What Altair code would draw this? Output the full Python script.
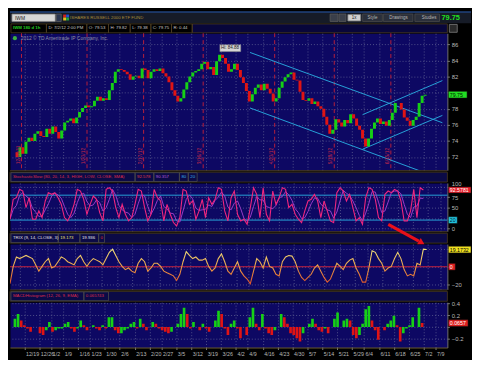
import altair as alt
import pandas as pd

FONT = "Liberation Sans"

# ---------------- data ----------------
# daily closes, trading days -2 .. 135 (day 0 = 12/16/2011 expiration)
closes = [72.0, 73.2, 72.4, 73.9, 74.4, 74.0, 74.9, 75.2, 74.6, 74.5,
          75.5, 74.9, 75.8, 75.1, 74.3, 75.3, 76.3, 76.5, 76.8, 76.2,
          76.9, 77.6, 78.1, 78.4, 78.2, 78.3, 79.0, 79.5, 79.0, 79.3,
          79.1, 80.3, 81.2, 82.6, 82.9, 82.8, 82.6, 82.3, 81.6, 82.0,
          82.1, 81.8, 83.0, 82.8, 81.8, 82.6, 82.9, 82.7, 83.0, 82.4,
          82.0, 81.3, 80.3, 79.6, 78.9, 79.3, 80.4, 81.3, 82.0, 82.5,
          82.7, 82.9, 83.6, 83.8, 82.9, 83.2, 82.2, 83.9, 84.7, 84.3,
          83.6, 82.6, 82.9, 83.6, 82.8, 81.9, 81.2, 80.2, 78.9, 79.8,
          80.6, 81.0, 80.3, 81.1, 80.5, 79.9, 78.9, 79.3, 80.6, 81.4,
          81.9, 82.3, 82.5, 81.6, 81.5, 80.1, 79.1, 79.0, 79.3, 78.6,
          78.9, 78.3, 78.0, 77.0, 76.0, 74.9, 75.4, 76.7, 76.3, 75.8,
          76.6, 76.2, 77.3, 76.8, 75.9, 75.4, 74.3, 73.3, 74.3, 75.5,
          76.3, 76.8, 76.1, 76.4, 75.9, 76.6, 77.5, 78.7, 78.7, 77.9,
          76.9, 76.5, 75.9, 76.6, 77.0, 78.7, 79.6, 79.75]
first_open = 72.6
first_day = -2

stoch = [22, 70, 74, 94, 90, 50, 74, 22, 22, 42, 26, 66, 86, 82, 86, 74, 58, 26, 18, 34,
         58, 94, 90, 70, 34, 58, 78, 70, 38, 18, 94, 98, 90, 50, 26, 58, 34, 18, 26, 58,
         94, 90, 50, 18, 34, 94, 74, 66, 18, 58, 34, 14, 6, 26, 94, 90, 58, 66, 22, 42,
         70, 26, 74, 58, 70, 98, 94, 42, 18, 74, 90, 34, 18,
         22, 10, 50, 98, 82, 26, 98, 34, 18, 90, 58, 74, 98, 94, 50, 58, 34, 22, 14, 42,
         66, 70, 82, 66, 26, 66, 42, 18, 14, 86, 98, 90, 66, 82, 50, 18, 26, 10, 74, 98,
         94, 70, 26, 18, 82, 90, 86, 94, 90, 66, 18, 18, 42, 94, 26, 98, 92.6]

trix = [-18.9, 0.4, 10.9, 9.1, 10.9, 12.6, 10.9, 9.1, 2.1, -4.9,
        0.4, 5.6, 9.1, -1.4, 0.4, 5.6, 10.9, 9.1, 5.6, 3.9,
        2.1, 9.1, 12.6, 5.6, 0.4, 5.6, 9.1, 7.4, 5.6, 2.1,
        9.1, 16.1, 19.6, 12.6, 5.6, 0.4, -3.2, -1.4, -4.9, -6.7,
        3.9, 9.1, 5.6, -4.9, -1.4, 3.9, 3.9, 0.4, -4.9, -6.7,
        -8.4, -10.2, -15.4, -8.4, 5.6, 16.8, 12.6, 9.1, 10.9, 7.4,
        7.4, 9.1, 0.4, -4.9, -1.4, 9.1, 14.4, 5.6, -4.9, -8.4,
        -1.4, 5.6, -4.9,
        -10.2, -13.7, -18.9, -4.9, 9.1, 5.6, -1.4, 10.9, 0.4, -1.4,
        -8.4, -10.2, 5.6, 10.9, 12.6, 11.9, 5.6, -4.9, -11.9, -15.4,
        -11.9, -8.4, -1.4, 2.1, -4.9, -11.9, -17.2, -13.7, -4.9, 3.9,
        0.4, -3.2, 3.9, 7.4, 9.1, -1.4, -8.4, -17.2, -17.2, -1.4,
        17.9, 16.1, 9.1, 3.9, -4.9, -1.4, 0.4, 9.1, 16.1, 9.1,
        -3.2, -10.2, -8.4, -10.2, 3.9, 2.1, 19.6, 19.2]

macd = [0.137, 0.219, 0.109, 0.027, -0.027, -0.082, 0.0, 0.0, -0.109, -0.137,
        -0.055, 0.082, -0.082, -0.055, -0.027, -0.027, 0.055, 0.082, -0.027, -0.082,
        -0.027, 0.109, 0.027, -0.055, 0.0, 0.027, -0.027, -0.055, 0.027, -0.027,
        0.164, 0.164, -0.055, -0.109, -0.109, -0.055, -0.027, 0.055, 0.082, -0.027,
        0.137, 0.055, -0.055, 0.0, 0.082, 0.055, -0.027, -0.055, -0.082, -0.109,
        -0.082, 0.0, 0.055, 0.219, 0.328, 0.219, -0.027, 0.082, 0.0, -0.055,
        0.055, -0.027, -0.082, 0.0, 0.109, 0.273, 0.219, -0.027, -0.137, 0.055,
        0.109, -0.027, -0.191,
        0.0, -0.137, 0.164, 0.328, 0.055, -0.055, 0.219, -0.027, -0.109, -0.137,
        -0.055, 0.0, 0.219, 0.164, 0.055, -0.109, -0.137, -0.191, -0.246, -0.109,
        0.0, 0.055, 0.137, 0.055, -0.055, -0.082, -0.027, -0.109, 0.0, 0.137,
        0.246, 0.0, 0.109, 0.137, 0.109, -0.137, -0.191, -0.137, 0.055, 0.301,
        0.355, 0.109, -0.055, -0.219, 0.0, -0.055, 0.055, 0.109, 0.191, 0.027,
        -0.246, -0.109, -0.027, 0.027, 0.164, 0.0, 0.328, 0.066]
ind_start, ind_step = -2.2, 1.0515   # indicator sample spacing in trading days

exp_days = [0, 22, 41, 61, 85, 105, 124]
exp_labels = ["12/16/11", "1/20/12", "2/17/12", "3/16/12", "4/20/12", "5/18/12", "6/15/12"]
week_days = [1, 6, 10, 14, 19, 23, 28, 33, 38, 43, 47, 52, 57, 62, 67, 72, 76, 81, 86, 91,
             96, 101, 106, 111, 115, 120, 125, 130, 135, 139]
week_labels = ["12/19", "12/26", "1/2", "1/9", "1/16", "1/23", "1/30", "2/6", "2/13", "2/20",
               "2/27", "3/5", "3/12", "3/19", "3/26", "4/2", "4/9", "4/16", "4/23", "4/30",
               "5/7", "5/14", "5/21", "5/29", "6/4", "6/11", "6/18", "6/25", "7/2", "7/9"]
price_ticks = [72, 74, 76, 78, 80, 82, 84, 86]

# trend channel lines (day, price)
chan_x = [76.7, 141.3, 76.7, 134.1, 114.5, 141.3, 114.5, 141.3]
chan_y = [85.0, 76.26, 78.10, 70.23, 72.97, 77.17, 77.26, 81.5]
chan_id = ["a", "a", "b", "b", "c", "c", "d", "d"]

# ---------------- layout / style ----------------
W = 444
HP, HS, HT, HM = 139, 49, 46, 46
XDOM = [-2.21, 141.32]
PDOM = [70.36, 87.38]
SDOM = [-7.0, 109.3]
TDOM = [-25.3, 25.3]
MDOM = [-0.35, 0.42]
NAVY = "#0d0863"
GRID = "#50508a"
LAB = "#b8b8b8"
GREEN = "#16d016"
RED = "#e01414"
CYAN = "#27a2d8"
TF = 4.4   # small UI text size

label_expr = "[" + ",".join("'%s'" % s for s in week_labels) + "][indexof([" + \
    ",".join(str(v) for v in week_days) + "], datum.value)]"


def X(labels=False):
    if labels:
        ax = alt.Axis(values=week_days, grid=True, gridColor=GRID, gridDash=[1, 2], labels=True,
                      labelExpr=label_expr, labelAlign="left", labelOffset=1, labelOverlap=False,
                      labelBound=False, labelFlush=False, labelColor=LAB, labelFontSize=5.4,
                      labelFont=FONT, labelPadding=2, ticks=True, tickSize=2, tickColor="#808080",
                      domain=True, domainColor="#6a5a2e", title=None)
    else:
        ax = alt.Axis(values=week_days, grid=True, gridColor=GRID, gridDash=[1, 2],
                      labels=False, ticks=False, domain=False, title=None)
    return alt.X("x:Q", scale=alt.Scale(domain=XDOM, nice=False, zero=False), axis=ax)


def make_Y(dom, values, fmt, hidden, top_up=None):
    expr = " || ".join("datum.value == %s" % h for h in hidden)
    lab = "(%s) ? '' : datum.label" % expr if hidden else "datum.label"
    extra = {}
    if top_up is not None:
        extra["labelBaseline"] = {"condition": {"test": "datum.value == %s" % top_up, "value": "bottom"},
                                  "value": "middle"}

    def Y(field="y"):
        return alt.Y(field + ":Q", scale=alt.Scale(domain=dom, nice=False, zero=False),
                     axis=alt.Axis(orient="right", values=values, format=fmt, grid=True,
                                   gridColor=GRID, gridDash=[1, 2], labelColor=LAB,
                                   labelFontSize=6, labelFont=FONT, labelPadding=2,
                                   labelExpr=lab,
                                   tickSize=2, tickColor="#808080", domain=True,
                                   domainColor="#707070", title=None, **extra))
    return Y


def value_box(Y, dom, H, v, label, fill, tcolor, wbox, hpx=3.4):
    h = hpx * (dom[1] - dom[0]) / H
    r = alt.Chart(pd.DataFrame({"y": [v - h], "y2": [v + h]})).mark_rect(
        fill=fill, stroke="#101010", strokeWidth=0.5).encode(
        x=alt.value(W + 1), x2=alt.value(W + 1 + wbox), y=Y(), y2="y2:Q")
    t = alt.Chart(pd.DataFrame({"y": [v]})).mark_text(
        align="left", baseline="middle", fontSize=5.3, font=FONT, color=tcolor).encode(
        x=alt.value(W + 2.5), y=Y(), text=alt.value(label))
    return [r, t]


def chrome(rects, texts, h):
    layers = []
    df = pd.DataFrame(rects, columns=["x1", "x2", "y1", "y2", "fill", "stroke"])
    layers.append(alt.Chart(df).mark_rect(strokeWidth=0.8).encode(
        x=alt.X("x1:Q", scale=None, axis=None), x2="x2:Q",
        y=alt.Y("y1:Q", scale=None, axis=None), y2="y2:Q",
        fill=alt.Fill("fill:N", scale=None), stroke=alt.Stroke("stroke:N", scale=None)))
    for bold in (False, True):
        sub = [t for t in texts if t[4] == bold]
        if sub:
            d = pd.DataFrame(sub, columns=["x", "y", "t", "c", "b", "s"])
            layers.append(alt.Chart(d).mark_text(
                align="left", baseline="middle", font=FONT,
                fontWeight="bold" if bold else "normal").encode(
                x=alt.X("x:Q", scale=None, axis=None), y=alt.Y("y:Q", scale=None, axis=None),
                text="t:N", color=alt.Color("c:N", scale=None),
                size=alt.Size("s:Q", scale=None)))
    return alt.layer(*layers).properties(width=W, height=h)


# ---------------- header ----------------
T = "transparent"
BOX = "#4e3f22"
hdr_rects = [
    (0, 468, 0, 12, "#161b27", T), (0, 468, 0, 1, "#2456a8", T),
    (2, 46, 2.5, 10, "#d6d6d6", "#808080"), (47, 52, 2.5, 10, "#2a3550", "#606060"),
    (54, 57, 3, 6, "#d02020", T), (57, 60, 3, 6, "#2050d0", T),
    (54, 57, 6, 9, "#e0c020", T), (57, 60, 6, 9, "#20a040", T),
    (325, 333, 2.5, 10, "#3a3f4a", "#5a5a5a"), (334, 341, 2.5, 10, "#3a3f4a", "#5a5a5a"),
    (343, 356, 3, 9.5, "#d0d0d0", "#808080"), (358, 378, 2.5, 10, "#2a2f3a", "#4a4a4a"),
    (379, 409, 2.5, 10, "#2a2f3a", "#4a4a4a"), (411, 436, 2.5, 10, "#2a2f3a", "#4a4a4a"),
    (0, 468, 12, 22, "#000000", T), (185, 444, 12.5, 21.5, "#08063a", BOX),
    (1, 37, 12.5, 21.5, T, BOX), (37, 78, 12.5, 21.5, T, BOX), (78, 100, 12.5, 21.5, T, BOX),
    (100, 122, 12.5, 21.5, T, BOX), (122, 143, 12.5, 21.5, T, BOX),
    (143, 164, 12.5, 21.5, T, BOX), (164, 185, 12.5, 21.5, T, BOX),
    (446, 454, 13, 21, "#2a2a2a", "#808080"),
]
GRAYT = "#c8c8c8"
hdr_texts = [
    (5, 6.5, "IWM", "#202020", False, 5.0),
    (61, 6.5, "ISHARES RUSSELL 2000 ETF FUND", "#a88c3a", False, 4.4),
    (347, 6.5, "1x", "#202020", False, 4.5),
    (363, 6.5, "Style", "#b8b8b8", False, 4.5),
    (385, 6.5, "Drawings", "#b8b8b8", False, 4.5),
    (418, 6.5, "Studies", "#b8b8b8", False, 4.5),
    (438, 6.5, "79.75", "#22e022", True, 7.5),
    (3, 17, "IWM 180 d 1h", "#22cc22", True, TF),
    (39, 17, "D: 7/2/12 2:00 PM", GRAYT, False, TF),
    (80, 17, "O: 79.53", GRAYT, False, TF),
    (102, 17, "H: 79.82", GRAYT, False, TF),
    (124, 17, "L: 79.38", GRAYT, False, TF),
    (145, 17, "C: 79.75", GRAYT, False, TF),
    (166, 17, "R: 0.44", GRAYT, False, TF),
]
header = chrome(hdr_rects, hdr_texts, 22)

# ---------------- price panel ----------------
YP = make_Y(PDOM, price_ticks, "d", [80])
opens = [first_open] + closes[:-1]
pdf = pd.DataFrame({
    "x": [first_day + i + 0.5 for i in range(len(closes))],
    "y": opens, "y2": closes,
    "dir": ["up" if c >= o else "down" for o, c in zip(opens, closes)],
})
candles = alt.Chart(pdf).mark_bar(width=3.0, clip=True).encode(
    x=X(), y=YP(), y2="y2:Q",
    color=alt.Color("dir:N", scale=alt.Scale(domain=["up", "down"], range=[GREEN, RED]), legend=None))
exp_rules = alt.Chart(pd.DataFrame({"x": exp_days})).mark_rule(
    color="#b8203c", strokeDash=[4, 3], strokeWidth=1).encode(x=X())
exp_text = alt.Chart(pd.DataFrame({"x": [d - 1.3 for d in exp_days], "y": [71.1] * len(exp_days),
                                   "t": exp_labels})).mark_text(
    angle=270, align="left", baseline="middle", fontSize=5.0, font=FONT, color="#c4284a").encode(
    x=X(), y=YP(), text="t:N")
chan = alt.Chart(pd.DataFrame({"x": chan_x, "y": chan_y, "id": chan_id})).mark_line(
    color=CYAN, strokeWidth=1, clip=True).encode(x=X(), y=YP(), detail="id:N")
hi_box = alt.Chart(pd.DataFrame({"x": [66.6], "x2": [73.6], "y": [85.1], "y2": [85.95]})).mark_rect(
    fill="#d4d4d4", stroke="#808080", strokeWidth=0.5).encode(x=X(), x2="x2:Q", y=YP(), y2="y2:Q")
hi_text = alt.Chart(pd.DataFrame({"x": [67.0], "y": [85.52]})).mark_text(
    align="left", baseline="middle", fontSize=4.6, font=FONT, color="#202020").encode(
    x=X(), y=YP(), text=alt.value("Hi: 84.88"))
copy_dot = alt.Chart(pd.DataFrame({"a": [0]})).mark_circle(size=18, color="#3cb043", opacity=1).encode(
    x=alt.value(5), y=alt.value(5))
copy_txt = alt.Chart(pd.DataFrame({"a": [0]})).mark_text(
    align="left", baseline="middle", fontSize=5.0, font=FONT, color="#8e8ea4").encode(
    x=alt.value(11), y=alt.value(5), text=alt.value("2012 \u00a9 TD Ameritrade IP Company, Inc."))
price = alt.layer(exp_rules, chan, candles, hi_box, hi_text, exp_text, copy_dot, copy_txt,
                  *value_box(YP, PDOM, HP, 79.75, "79.75", "#22dd22", "#002000", 19)).properties(
    width=W, height=HP, view=alt.ViewBackground(fill=NAVY, stroke="transparent"))


def title_row(segs, texts):
    rects = [(0, 444, 0, 1, "#4a3c1e", T), (0, 444, 2, 12, "#0b0a46", "#4a3c1e")]
    rects += [(a, b, 2.5, 11.5, T, "#4a4a4a") for a, b in segs]
    return chrome(rects, [(x, 7, t, c, False, TF) for x, t, c in texts], 13)


title1 = title_row([(1, 127), (127, 146), (146, 172), (172, 181), (181, 190)],
                   [(3, "StochasticSlow (80, 20, 14, 3, HIGH, LOW, CLOSE, SMA)", "#dc2c4c"),
                    (129, "92.578", "#e03a4a"), (148, "90.357", "#b858d8"),
                    (174, "80", "#3ab0e8"), (183, "20", "#3ab0e8")])
title2 = title_row([(1, 49), (49, 71), (71, 90), (90, 96)],
                   [(3, "TRIX (9, 14, CLOSE, 3)", "#e0e0e0"), (51, "19.173", "#e8e070"),
                    (73, "19.936", "#e8e8e8"), (92, "0", "#e03030")])
title3 = title_row([(1, 75), (75, 100)],
                   [(3, "MACDHistogram (12, 26, 9, EMA)", "#dc2c4c"), (77, "0.065743", "#dc2c4c")])

# ---------------- stochastic ----------------
YS = make_Y(SDOM, [0, 25, 50, 75, 100], "d", [25], top_up=100)
sdf = pd.DataFrame({"x": [ind_start + k * ind_step for k in range(len(stoch))], "y": stoch})
s_lines = alt.Chart(pd.DataFrame({"y": [80, 20]})).mark_rule(color=CYAN, strokeWidth=1).encode(y=YS())
s_d = alt.Chart(sdf).transform_window(yd="mean(y)", frame=[-2, 0], sort=[alt.SortField("x")]).mark_line(
    color="#9b3cc8", strokeWidth=1, clip=True).encode(x=X(), y=YS("yd"))
s_k = alt.Chart(sdf).mark_line(color="#f0267e", strokeWidth=1.1, clip=True).encode(x=X(), y=YS())
stoch_panel = alt.layer(s_lines, s_d, s_k,
                        *value_box(YS, SDOM, HS, 92.58, "92.5781", "#e8202c", "#ffffff", 23, hpx=3.1),
                        *value_box(YS, SDOM, HS, 20, "20", "#22c8e0", "#002030", 9)).properties(
    width=W, height=HS, view=alt.ViewBackground(fill=NAVY, stroke="transparent"))

# ---------------- TRIX ----------------
YT = make_Y(TDOM, [-20, 0, 20], "d", [0, 20])
tdf = pd.DataFrame({"x": [ind_start + k * ind_step for k in range(len(trix))], "y": trix})
grad = alt.LinearGradient(gradient="linear", x1=0, x2=0, y1=0, y2=1, stops=[
    alt.GradientStop(color="#f2e47c", offset=0), alt.GradientStop(color="#eaa048", offset=0.5),
    alt.GradientStop(color="#e0542a", offset=1)])
t_zero = alt.Chart(pd.DataFrame({"y": [0]})).mark_rule(color="#c4203e", strokeWidth=1.2).encode(y=YT())
t_line = alt.Chart(tdf).mark_line(color=grad, strokeWidth=1.1, clip=True).encode(x=X(), y=YT())
arrow = alt.Chart(pd.DataFrame({"a": [0]})).mark_rule(color="#e8101a", strokeWidth=3).encode(
    x=alt.value(384), x2=alt.value(415), y=alt.value(-20), y2=alt.value(-3))
arrow_head = alt.Chart(pd.DataFrame({"a": [0]})).mark_point(
    shape="triangle", angle=120, filled=True, size=55, color="#e8101a", opacity=1).encode(
    x=alt.value(417), y=alt.value(-2))
trix_panel = alt.layer(t_zero, t_line,
                       *value_box(YT, TDOM, HT, 19.17, "19.1732", "#f0e020", "#000000", 23),
                       *value_box(YT, TDOM, HT, 0, "0", "#e02020", "#ffffff", 7),
                       arrow, arrow_head).properties(
    width=W, height=HT, view=alt.ViewBackground(fill=NAVY, stroke="transparent"))

# ---------------- MACD histogram ----------------
YM = make_Y(MDOM, [-0.2, 0, 0.2, 0.4], "~g", [0])
mdf = pd.DataFrame({
    "x": [ind_start + k * ind_step for k in range(len(macd))], "y": macd, "y2": [0.0] * len(macd),
    "dir": ["up" if k == 0 or macd[k] >= macd[k - 1] else "down" for k in range(len(macd))],
})
m_bars = alt.Chart(mdf).mark_bar(width=2.7, clip=True).encode(
    x=X(True), y=YM(), y2="y2:Q",
    color=alt.Color("dir:N", scale=alt.Scale(domain=["up", "down"], range=["#12e012", "#e01212"]), legend=None))
macd_panel = alt.layer(m_bars,
                       *value_box(YM, MDOM, HM, 0.0657, "0.0657", "#e02020", "#ffffff", 20)).properties(
    width=W, height=HM, view=alt.ViewBackground(fill=NAVY, stroke="transparent"))

chart = alt.vconcat(header, price, title1, stoch_panel, title2, trix_panel, title3, macd_panel,
                    spacing=0, bounds="flush").configure(
    background="#000000", padding=0).configure_view(stroke="transparent")

chart.save("out.html", embed_options={"renderer": "svg", "actions": False})
